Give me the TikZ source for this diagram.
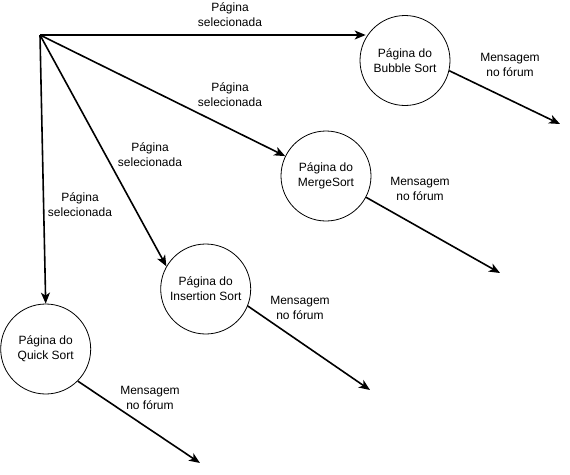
\documentclass[tikz,border=0pt]{standalone}
\usepackage{fontspec}
\setmainfont{Liberation Sans}
\usetikzlibrary{arrows.meta}
\begin{document}
\begin{tikzpicture}[x=1pt,y=-1pt,
  page/.style={circle,draw,line width=0.8pt,minimum size=90pt,inner sep=0pt,align=center,font=\fontsize{12}{15}\selectfont},
  lbl/.style={align=center,inner sep=0pt,font=\fontsize{12}{15}\selectfont},
  conn/.style={line width=1.6pt,-{Stealth[length=11pt,width=9pt,inset=3pt]}}]
\useasboundingbox (0,0) rectangle (570,474);
\coordinate (o) at (40,35);
\node[page] (bubble) at (405,60.5) {Página do\\Bubble Sort};
\node[page] (merge) at (326,176) {Página do\\MergeSort};
\node[page] (ins) at (205.7,289) {Página do\\Insertion Sort};
\node[page] (quick) at (45.7,349) {Página do\\Quick Sort};
\coordinate (bend) at (560,124);
\coordinate (mend) at (500,273);
\coordinate (iend) at (370,390);
\coordinate (qend) at (200,463);
\draw[conn] (o) -- (o -| bubble.150);
\draw[conn] (o) -- (merge.154);
\draw[conn] (o) -- (ins.150);
\draw[conn] (o) -- (quick.north);
\draw[conn] (bubble.-13) -- (bend);
\draw[conn] (merge.-28) -- (mend);
\draw[conn] (ins.-22) -- (iend);
\draw[conn] (quick.-45) -- (qend);
\node[lbl] (l1) at (230,14.5) {Página\\selecionada};
\node[lbl] (l2) at (230,94.5) {Página\\selecionada};
\node[lbl] (l3) at (150,154.5) {Página\\selecionada};
\node[lbl] (l4) at (80,204.5) {Página\\selecionada};
\node[lbl] (m1) at (510,64.5) {Mensagem\\no fórum};
\node[lbl] (m2) at (420,188.5) {Mensagem\\no fórum};
\node[lbl] (m3) at (300,308) {Mensagem\\no fórum};
\node[lbl] (m4) at (150,398) {Mensagem\\no fórum};
\end{tikzpicture}
\end{document}
